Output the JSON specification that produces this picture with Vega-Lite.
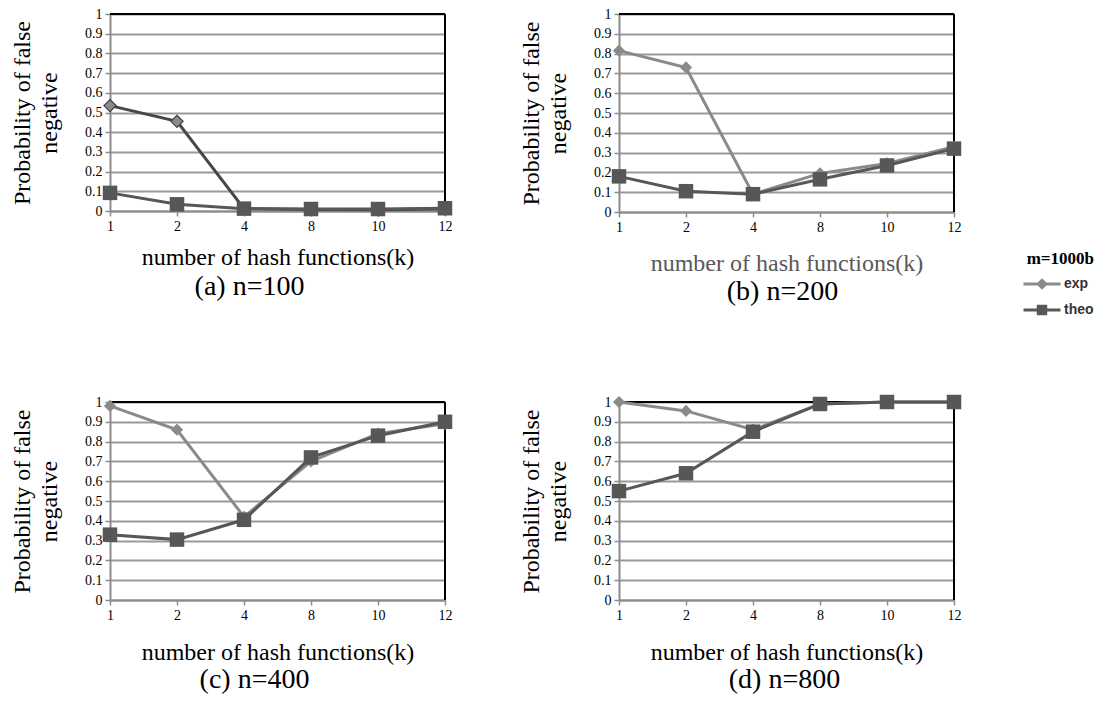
{
  "$schema": "https://vega.github.io/schema/vega-lite/v6.json",
  "background": "white",
  "padding": {"left": 10, "top": 7, "right": 5, "bottom": 5},
  "bounds": "flush",
  "spacing": {"row": 190, "column": 174},
  "columns": 2,
  "datasets": {
    "bloom": [
      {"panel": "a", "series": "exp", "k": 1, "p": 0.535},
      {"panel": "a", "series": "exp", "k": 2, "p": 0.455},
      {"panel": "a", "series": "exp", "k": 4, "p": 0.012},
      {"panel": "a", "series": "exp", "k": 8, "p": 0.008},
      {"panel": "a", "series": "exp", "k": 10, "p": 0.006},
      {"panel": "a", "series": "exp", "k": 12, "p": 0.01},
      {"panel": "a", "series": "theo", "k": 1, "p": 0.092},
      {"panel": "a", "series": "theo", "k": 2, "p": 0.034},
      {"panel": "a", "series": "theo", "k": 4, "p": 0.012},
      {"panel": "a", "series": "theo", "k": 8, "p": 0.01},
      {"panel": "a", "series": "theo", "k": 10, "p": 0.01},
      {"panel": "a", "series": "theo", "k": 12, "p": 0.014},
      {"panel": "b", "series": "exp", "k": 1, "p": 0.815},
      {"panel": "b", "series": "exp", "k": 2, "p": 0.73},
      {"panel": "b", "series": "exp", "k": 4, "p": 0.09},
      {"panel": "b", "series": "exp", "k": 8, "p": 0.195},
      {"panel": "b", "series": "exp", "k": 10, "p": 0.245},
      {"panel": "b", "series": "exp", "k": 12, "p": 0.33},
      {"panel": "b", "series": "theo", "k": 1, "p": 0.18},
      {"panel": "b", "series": "theo", "k": 2, "p": 0.105},
      {"panel": "b", "series": "theo", "k": 4, "p": 0.09},
      {"panel": "b", "series": "theo", "k": 8, "p": 0.165},
      {"panel": "b", "series": "theo", "k": 10, "p": 0.235},
      {"panel": "b", "series": "theo", "k": 12, "p": 0.32},
      {"panel": "c", "series": "exp", "k": 1, "p": 0.98},
      {"panel": "c", "series": "exp", "k": 2, "p": 0.86},
      {"panel": "c", "series": "exp", "k": 4, "p": 0.42},
      {"panel": "c", "series": "exp", "k": 8, "p": 0.70},
      {"panel": "c", "series": "exp", "k": 10, "p": 0.84},
      {"panel": "c", "series": "exp", "k": 12, "p": 0.89},
      {"panel": "c", "series": "theo", "k": 1, "p": 0.33},
      {"panel": "c", "series": "theo", "k": 2, "p": 0.305},
      {"panel": "c", "series": "theo", "k": 4, "p": 0.405},
      {"panel": "c", "series": "theo", "k": 8, "p": 0.72},
      {"panel": "c", "series": "theo", "k": 10, "p": 0.83},
      {"panel": "c", "series": "theo", "k": 12, "p": 0.90},
      {"panel": "d", "series": "exp", "k": 1, "p": 1.0},
      {"panel": "d", "series": "exp", "k": 2, "p": 0.955},
      {"panel": "d", "series": "exp", "k": 4, "p": 0.86},
      {"panel": "d", "series": "exp", "k": 8, "p": 0.99},
      {"panel": "d", "series": "exp", "k": 10, "p": 1.0},
      {"panel": "d", "series": "exp", "k": 12, "p": 1.0},
      {"panel": "d", "series": "theo", "k": 1, "p": 0.55},
      {"panel": "d", "series": "theo", "k": 2, "p": 0.64},
      {"panel": "d", "series": "theo", "k": 4, "p": 0.85},
      {"panel": "d", "series": "theo", "k": 8, "p": 0.99},
      {"panel": "d", "series": "theo", "k": 10, "p": 1.0},
      {"panel": "d", "series": "theo", "k": 12, "p": 1.0}
    ]
  },
  "concat": [
    {
      "width": 335, "height": 197,
      "data": {"name": "bloom"},
      "transform": [{"filter": "datum.panel == 'a'"}],
      "title": {"text": "(a) n=100", "dx": -28, "offset": 4},
      "encoding": {
        "x": {"field": "k", "type": "ordinal", "scale": {"type": "point", "padding": 0}, "axis": {"title": "number of hash functions(k)", "titlePadding": 12}},
        "y": {"field": "p", "type": "quantitative", "scale": {"domain": [0, 1], "nice": false}, "axis": {"values": [0, 0.1, 0.2, 0.3, 0.4, 0.5, 0.6, 0.7, 0.8, 0.9, 1], "format": "~g", "title": ["Probability of false", "negative"]}}
      },
      "layer": [
        {"mark": {"type": "rule", "color": "black", "strokeWidth": 2}, "encoding": {"y": {"datum": 1}, "x": null}},
        {"mark": {"type": "rule", "color": "black", "strokeWidth": 2}, "encoding": {"x": {"datum": 12}, "y": null}},
        {"transform": [{"filter": "datum.series == 'exp'"}], "mark": {"type": "line", "color": "#474747", "strokeWidth": 3}},
        {"transform": [{"filter": "datum.series == 'theo'"}], "mark": {"type": "line", "color": "#575757", "strokeWidth": 3}},
        {"transform": [{"filter": "datum.series == 'exp'"}], "mark": {"type": "point", "shape": "diamond", "filled": true, "fill": "#8a8a8a", "stroke": "#404040", "strokeWidth": 1.2, "size": 150, "opacity": 1}},
        {"transform": [{"filter": "datum.series == 'theo'"}], "mark": {"type": "point", "shape": "square", "filled": true, "color": "#575757", "size": 210, "opacity": 1}}
      ]
    },
    {
      "width": 335, "height": 198,
      "data": {"name": "bloom"},
      "transform": [{"filter": "datum.panel == 'b'"}],
      "title": {"text": "(b) n=200", "dx": -4, "offset": 3},
      "encoding": {
        "x": {"field": "k", "type": "ordinal", "scale": {"type": "point", "padding": 0}, "axis": {"title": "number of hash functions(k)", "titlePadding": 17, "titleColor": "#595959"}},
        "y": {"field": "p", "type": "quantitative", "scale": {"domain": [0, 1], "nice": false}, "axis": {"values": [0, 0.1, 0.2, 0.3, 0.4, 0.5, 0.6, 0.7, 0.8, 0.9, 1], "format": "~g", "title": ["Probability of false", "negative"]}}
      },
      "layer": [
        {"mark": {"type": "rule", "color": "black", "strokeWidth": 2}, "encoding": {"y": {"datum": 1}, "x": null}},
        {"mark": {"type": "rule", "color": "black", "strokeWidth": 2}, "encoding": {"x": {"datum": 12}, "y": null}},
        {"transform": [{"filter": "datum.series == 'exp'"}], "mark": {"type": "line", "color": "#8a8a8a", "strokeWidth": 3}},
        {"transform": [{"filter": "datum.series == 'theo'"}], "mark": {"type": "line", "color": "#575757", "strokeWidth": 3}},
        {"transform": [{"filter": "datum.series == 'exp'"}], "mark": {"type": "point", "shape": "diamond", "filled": true, "color": "#8a8a8a", "size": 150, "opacity": 1}},
        {"transform": [{"filter": "datum.series == 'theo'"}], "mark": {"type": "point", "shape": "square", "filled": true, "color": "#575757", "size": 210, "opacity": 1}},
        {
          "transform": [{"filter": "datum.k == 1"}],
          "mark": {"type": "point", "filled": true, "opacity": 0},
          "encoding": {
            "shape": {"field": "series", "type": "nominal", "title": "m=1000b",
              "scale": {"domain": ["exp", "theo"], "range": ["M-1,0H1M0,-0.2L0.2,0L0,0.2L-0.2,0Z", "M-1,0H1M-0.2,-0.2H0.2V0.2H-0.2Z"]},
              "legend": {"orient": "none", "legendX": 912, "legendY": 237, "symbolSize": 1369, "symbolStrokeWidth": 3, "symbolOpacity": 1, "clipHeight": 18, "rowPadding": 8, "labelOffset": 2, "titlePadding": 7, "titleAnchor": "end",
                "title": "m=1000b", "titleFont": "Liberation Serif", "titleFontSize": 17, "titleFontWeight": "bold", "titleColor": "black",
                "labelFont": "Liberation Sans", "labelFontSize": 14, "labelFontWeight": "bold", "labelColor": "#333333"}},
            "fill": {"field": "series", "type": "nominal", "title": "m=1000b", "scale": {"domain": ["exp", "theo"], "range": ["#8a8a8a", "#575757"]}},
            "stroke": {"field": "series", "type": "nominal", "title": "m=1000b", "scale": {"domain": ["exp", "theo"], "range": ["#8a8a8a", "#575757"]}}
          }
        }
      ]
    },
    {
      "width": 335, "height": 198,
      "data": {"name": "bloom"},
      "transform": [{"filter": "datum.panel == 'c'"}],
      "title": {"text": "(c) n=400", "dx": -23, "offset": 2},
      "encoding": {
        "x": {"field": "k", "type": "ordinal", "scale": {"type": "point", "padding": 0}, "axis": {"title": "number of hash functions(k)", "titlePadding": 18}},
        "y": {"field": "p", "type": "quantitative", "scale": {"domain": [0, 1], "nice": false}, "axis": {"values": [0, 0.1, 0.2, 0.3, 0.4, 0.5, 0.6, 0.7, 0.8, 0.9, 1], "format": "~g", "title": ["Probability of false", "negative"]}}
      },
      "layer": [
        {"mark": {"type": "rule", "color": "black", "strokeWidth": 2}, "encoding": {"y": {"datum": 1}, "x": null}},
        {"mark": {"type": "rule", "color": "black", "strokeWidth": 2}, "encoding": {"x": {"datum": 12}, "y": null}},
        {"transform": [{"filter": "datum.series == 'exp'"}], "mark": {"type": "line", "color": "#8a8a8a", "strokeWidth": 3}},
        {"transform": [{"filter": "datum.series == 'theo'"}], "mark": {"type": "line", "color": "#575757", "strokeWidth": 3}},
        {"transform": [{"filter": "datum.series == 'exp'"}], "mark": {"type": "point", "shape": "diamond", "filled": true, "color": "#8a8a8a", "size": 150, "opacity": 1}},
        {"transform": [{"filter": "datum.series == 'theo'"}], "mark": {"type": "point", "shape": "square", "filled": true, "color": "#575757", "size": 210, "opacity": 1}}
      ]
    },
    {
      "width": 335, "height": 198,
      "data": {"name": "bloom"},
      "transform": [{"filter": "datum.panel == 'd'"}],
      "title": {"text": "(d) n=800", "dx": -2, "offset": 2},
      "encoding": {
        "x": {"field": "k", "type": "ordinal", "scale": {"type": "point", "padding": 0}, "axis": {"title": "number of hash functions(k)", "titlePadding": 18}},
        "y": {"field": "p", "type": "quantitative", "scale": {"domain": [0, 1], "nice": false}, "axis": {"values": [0, 0.1, 0.2, 0.3, 0.4, 0.5, 0.6, 0.7, 0.8, 0.9, 1], "format": "~g", "title": ["Probability of false", "negative"]}}
      },
      "layer": [
        {"mark": {"type": "rule", "color": "black", "strokeWidth": 2}, "encoding": {"y": {"datum": 1}, "x": null}},
        {"mark": {"type": "rule", "color": "black", "strokeWidth": 2}, "encoding": {"x": {"datum": 12}, "y": null}},
        {"transform": [{"filter": "datum.series == 'exp'"}], "mark": {"type": "line", "color": "#8a8a8a", "strokeWidth": 3}},
        {"transform": [{"filter": "datum.series == 'theo'"}], "mark": {"type": "line", "color": "#575757", "strokeWidth": 3}},
        {"transform": [{"filter": "datum.series == 'exp'"}], "mark": {"type": "point", "shape": "diamond", "filled": true, "color": "#8a8a8a", "size": 150, "opacity": 1}},
        {"transform": [{"filter": "datum.series == 'theo'"}], "mark": {"type": "point", "shape": "square", "filled": true, "color": "#575757", "size": 210, "opacity": 1}}
      ]
    }
  ],
  "config": {
    "view": {"stroke": null},
    "axis": {
      "domainColor": "#8c8c8c", "domainWidth": 2,
      "tickColor": "#8c8c8c", "tickWidth": 1.5, "tickSize": 5,
      "labelFont": "Liberation Serif", "labelFontSize": 14, "labelColor": "black", "labelPadding": 3,
      "titleFont": "Liberation Serif", "titleFontSize": 24, "titleFontWeight": "normal", "titleColor": "black"
    },
    "axisX": {"grid": false, "labelAngle": 0},
    "axisY": {"grid": true, "gridColor": "#9a9a9a", "gridWidth": 1.8, "titleLineHeight": 27, "titlePadding": 23},
    "title": {"orient": "bottom", "anchor": "middle", "frame": "group", "font": "Liberation Serif", "fontSize": 28, "fontWeight": "normal", "color": "black"}
  }
}
